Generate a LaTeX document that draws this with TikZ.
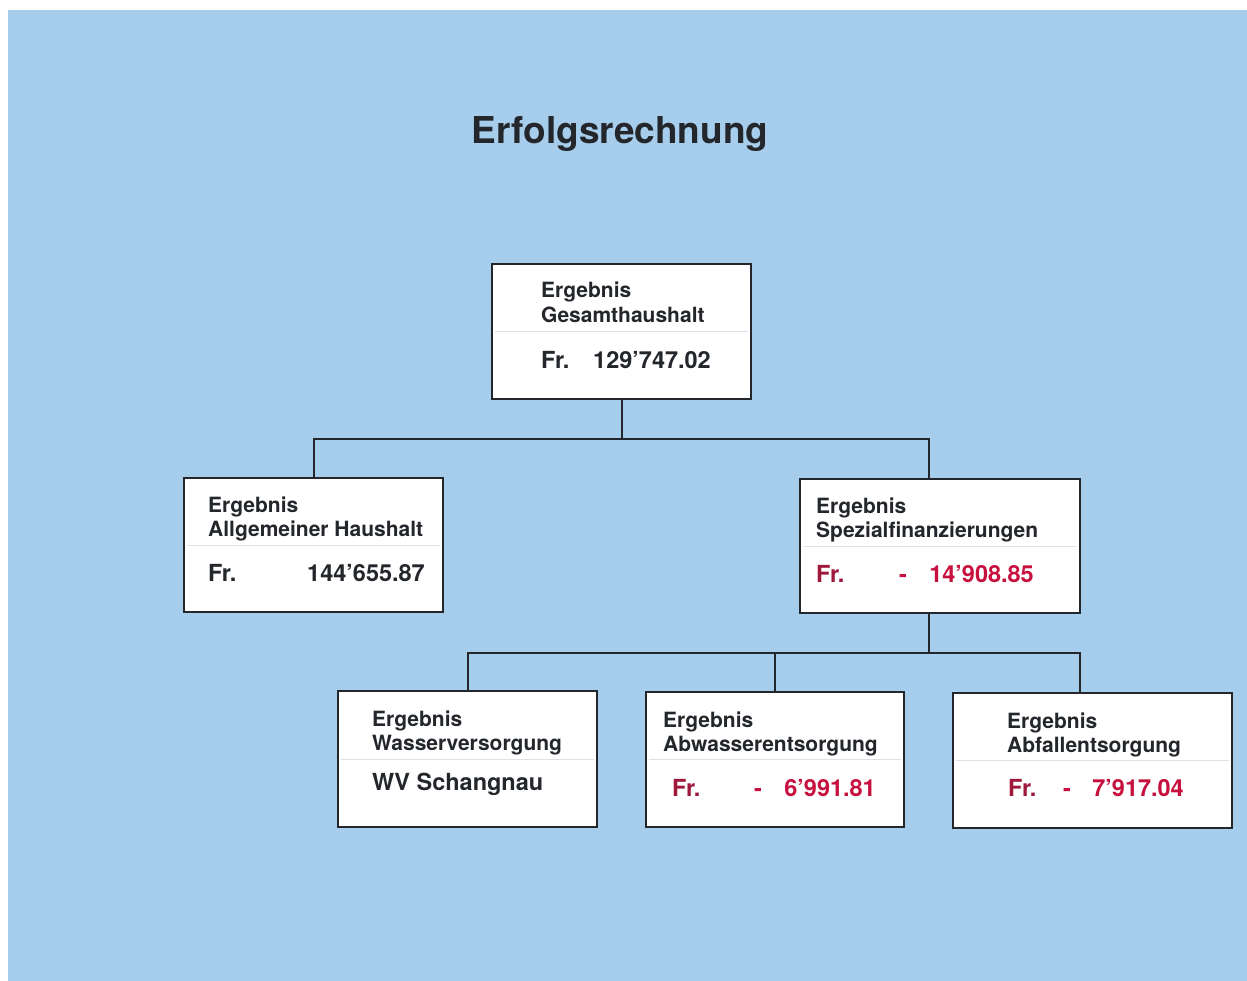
\documentclass[tikz,border=0pt]{standalone}
\usepackage{fontspec}
\setmainfont{TeX Gyre Heros}
\usepackage{xcolor}
\usepackage{tikz}
\usetikzlibrary{positioning, calc}

\definecolor{bgblue}{RGB}{166,206,236}
\definecolor{ink}{RGB}{35,38,42}
\definecolor{frred}{RGB}{158,24,60}
\definecolor{numred}{RGB}{200,16,62}
\definecolor{sepgrey}{RGB}{222,226,230}

\begin{document}
\begin{tikzpicture}[
      x=1pt, y=-1pt,
      box/.style={rectangle, draw=ink, fill=white, line width=2.5pt, inner sep=0pt},
      link/.style={draw=ink, line width=2pt},
      sep/.style={draw=sepgrey, line width=1pt},
      lbl/.style={anchor=base west, inner sep=0pt, text=ink, font=\fontsize{21}{25}\selectfont\bfseries},
      val/.style={lbl, font=\fontsize{23.5}{28}\selectfont\bfseries},
      num/.style={val, anchor=base east}
    ]
    % Page and background
    \fill[white] (0,0) rectangle (1247,981);
    \useasboundingbox (0,0) rectangle (1247,981);
    \fill[bgblue] (8,10) rectangle (1247,981);

    % Title
    \node[lbl, anchor=base, font=\fontsize{37}{44}\selectfont\bfseries] (title) at (620,144) {Erfolgsrechnung};

    % Boxes
    \node[box, minimum width=259pt, minimum height=135pt] (gesamt) at (621.5,331.5) {};
    \node[box, minimum width=259pt, minimum height=134pt] (allg) at (313.5,545) {};
    \node[box, minimum width=280pt, minimum height=134pt] (spez) at (940,546) {};
    \node[box, minimum width=259pt, minimum height=136pt] (wasser) at (467.5,759) {};
    \node[box, minimum width=258pt, minimum height=135pt] (abwasser) at (775,759.5) {};
    \node[box, minimum width=279pt, minimum height=135pt] (abfall) at (1092.5,760.5) {};

    % Thin separators inside the boxes
    \foreach \b in {gesamt, allg, spez, wasser, abwasser, abfall}
      \draw[sep] ([xshift=4pt]\b.west) -- ([xshift=-4pt]\b.east);

    % Connectors
    \draw[link] (gesamt.south) -- ++(0,39) coordinate (j1) -| (allg.north);
    \draw[link] (j1) -| ([xshift=-11pt]spez.north);
    \draw[link] ([xshift=-11pt]spez.south) -- ++(0,39) coordinate (j2) -| (wasser.north);
    \draw[link] (j2) -| (abwasser.north);
    \draw[link] (j2) -| ([xshift=-13pt]abfall.north);

    % Headings
    \foreach \n/\x/\y/\t in {gesamt/541/298/Gesamthaushalt,
        allg/208/512/Allgemeiner Haushalt,
        spez/816/513/Spezialfinanzierungen,
        wasser/372/726/Wasserversorgung,
        abwasser/663/727/Abwasserentsorgung,
        abfall/1007/728/Abfallentsorgung} {
      \node[lbl] (\n-a) at (\x,\y) {Ergebnis};
      \node[lbl] (\n-b) at (\x,\y+24.5) {\t};
    }

    % Amounts
    \node[val] (gesamt-fr) at (541,368) {Fr.};
    \node[num] (gesamt-v) at (711,368) {129’747.02};
    \node[val] (allg-fr) at (208,581) {Fr.};
    \node[num] (allg-v) at (425,581) {144’655.87};
    \node[val, text=frred] (spez-fr) at (816,582) {Fr.};
    \node[val, text=numred] (spez-m) at (899,582) {-};
    \node[num, text=numred] (spez-v) at (1034,582) {14’908.85};
    \node[val] (wasser-v) at (372,790) {WV Schangnau};
    \node[val, text=frred] (abwasser-fr) at (672,796) {Fr.};
    \node[val, text=numred] (abwasser-m) at (754,796) {-};
    \node[num, text=numred] (abwasser-v) at (876,796) {6’991.81};
    \node[val, text=frred] (abfall-fr) at (1008,796) {Fr.};
    \node[val, text=numred] (abfall-m) at (1063,796) {-};
    \node[num, text=numred] (abfall-v) at (1184,796) {7’917.04};
  \end{tikzpicture}
\end{document}
